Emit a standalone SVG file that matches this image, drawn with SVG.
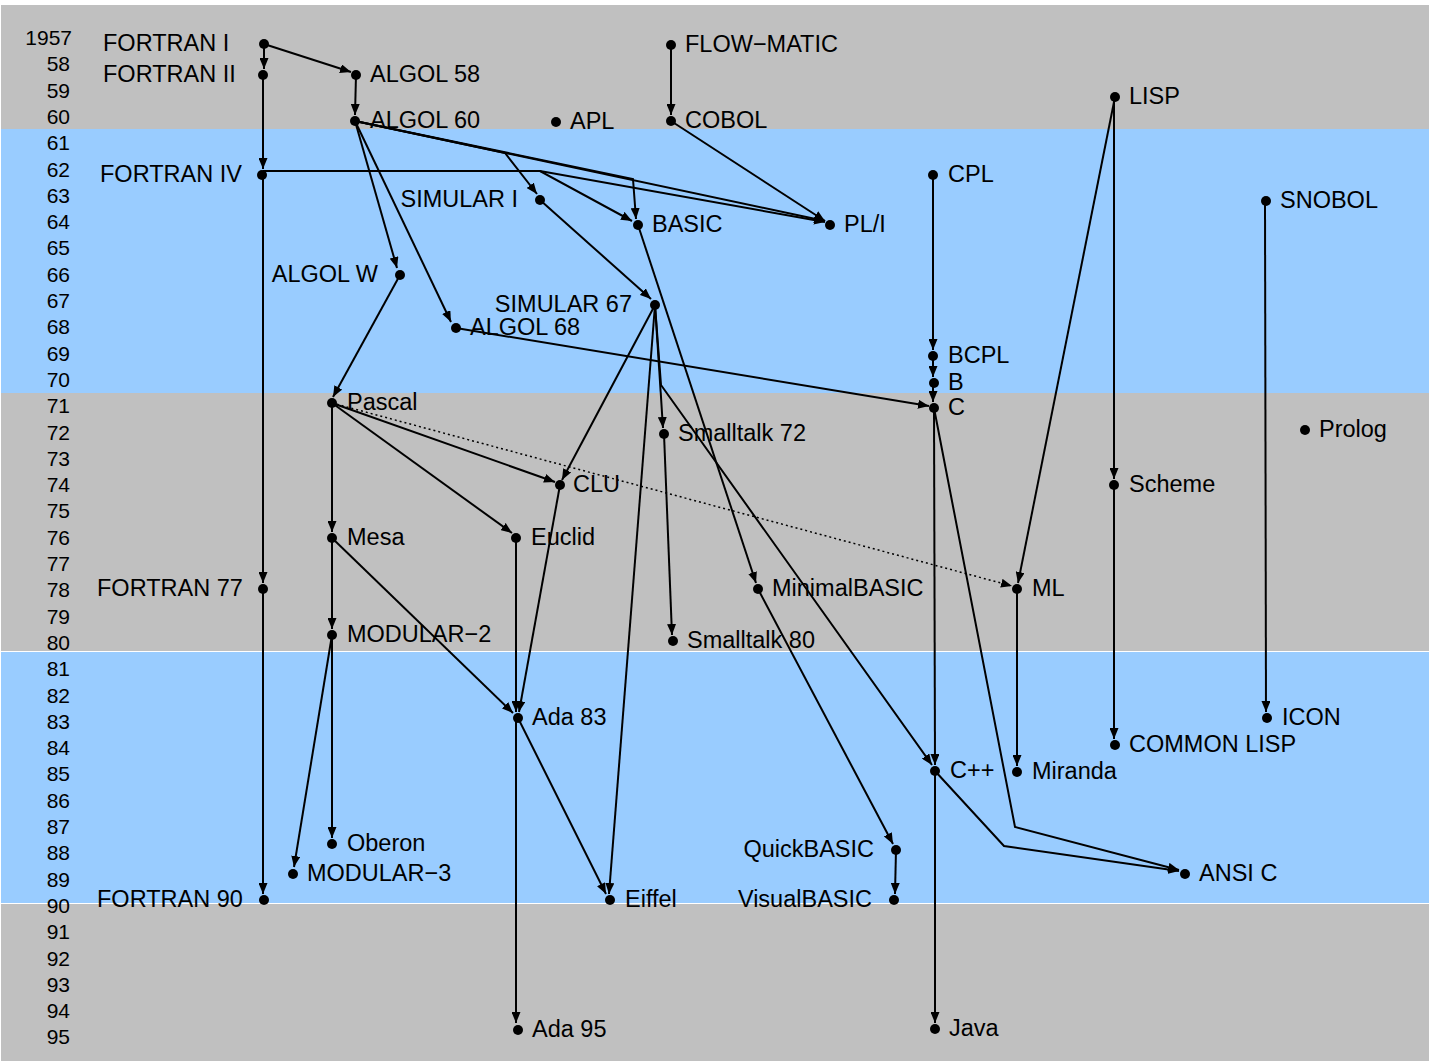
<svg xmlns="http://www.w3.org/2000/svg" width="1429" height="1063" viewBox="0 0 1429 1063">
<style>
.yr{font-family:"Liberation Sans",Arial,sans-serif;font-size:21px;fill:#000;text-anchor:end}
.lb{font-family:"Liberation Sans",Arial,sans-serif;font-size:23.5px;fill:#000}
.r{text-anchor:end}
.e{fill:none;stroke:#000;stroke-width:2;marker-end:url(#ah)}
.d{fill:none;stroke:#000;stroke-width:1.5;stroke-dasharray:2,3;marker-end:url(#ah)}
.dot{fill:#000}
</style>
<defs>
<marker id="ah" viewBox="0 0 11 9" refX="11" refY="4.5" markerWidth="11" markerHeight="9" markerUnits="userSpaceOnUse" orient="auto"><path d="M0,0 L11,4.5 L0,9 z" fill="#000"/></marker>
</defs>
<rect width="1429" height="1063" fill="#fff"/>
<g id="bands">
<rect x="1" y="5" width="1428" height="124" fill="#c0c0c0"/>
<rect x="1" y="129" width="1428" height="264" fill="#99ccff"/>
<rect x="1" y="393" width="1428" height="258" fill="#c0c0c0"/>
<rect x="1" y="652" width="1428" height="251" fill="#99ccff"/>
<rect x="1" y="904" width="1428" height="157" fill="#c0c0c0"/>
</g>
<g id="years">
<text class="yr" x="72" y="45">1957</text>
<text class="yr" x="70" y="71.3">58</text>
<text class="yr" x="70" y="97.6">59</text>
<text class="yr" x="70" y="123.9">60</text>
<text class="yr" x="70" y="150.2">61</text>
<text class="yr" x="70" y="176.5">62</text>
<text class="yr" x="70" y="202.8">63</text>
<text class="yr" x="70" y="229.1">64</text>
<text class="yr" x="70" y="255.4">65</text>
<text class="yr" x="70" y="281.7">66</text>
<text class="yr" x="70" y="308">67</text>
<text class="yr" x="70" y="334.3">68</text>
<text class="yr" x="70" y="360.6">69</text>
<text class="yr" x="70" y="386.9">70</text>
<text class="yr" x="70" y="413.2">71</text>
<text class="yr" x="70" y="439.5">72</text>
<text class="yr" x="70" y="465.8">73</text>
<text class="yr" x="70" y="492.1">74</text>
<text class="yr" x="70" y="518.4">75</text>
<text class="yr" x="70" y="544.7">76</text>
<text class="yr" x="70" y="571">77</text>
<text class="yr" x="70" y="597.3">78</text>
<text class="yr" x="70" y="623.6">79</text>
<text class="yr" x="70" y="649.9">80</text>
<text class="yr" x="70" y="676.2">81</text>
<text class="yr" x="70" y="702.5">82</text>
<text class="yr" x="70" y="728.8">83</text>
<text class="yr" x="70" y="755.1">84</text>
<text class="yr" x="70" y="781.4">85</text>
<text class="yr" x="70" y="807.7">86</text>
<text class="yr" x="70" y="834">87</text>
<text class="yr" x="70" y="860.3">88</text>
<text class="yr" x="70" y="886.6">89</text>
<text class="yr" x="70" y="912.9">90</text>
<text class="yr" x="70" y="939.2">91</text>
<text class="yr" x="70" y="965.5">92</text>
<text class="yr" x="70" y="991.8">93</text>
<text class="yr" x="70" y="1018.1">94</text>
<text class="yr" x="70" y="1044.4">95</text>
</g>
<g id="connectors">
<path class="e" d="M264,44 L264,69"/>
<path class="e" d="M264,44 L351,72"/>
<path class="e" d="M263,75 L263,169"/>
<path class="e" d="M356,75 L355,115"/>
<path class="e" d="M671,45 L671,115"/>
<path class="e" d="M355,121 L825,221"/>
<path class="e" d="M355,121 L505,153 L537,194"/>
<path class="e" d="M355,121 L633,179 L636,219"/>
<path class="e" d="M263,171 L540,171 L632,221"/>
<path class="e" d="M263,171 L540,171 L825,222"/>
<path class="e" d="M671,121 L825,221"/>
<path class="e" d="M355,121 L397,268"/>
<path class="e" d="M355,121 L451,322"/>
<path class="e" d="M540,200 L651,299"/>
<path class="e" d="M638,225 L756,583"/>
<path class="e" d="M933,175 L933,350"/>
<path class="e" d="M933,356 L933,377"/>
<path class="e" d="M933,383 L933,402"/>
<path class="e" d="M456,328 L929,406"/>
<path class="e" d="M400,275 L333,397"/>
<path class="e" d="M655,305 L562,480"/>
<path class="e" d="M655,305 L663,428"/>
<path class="e" d="M655,305 L609,894"/>
<path class="e" d="M655,305 L661,385 L932,765"/>
<path class="e" d="M664,434 L672,635"/>
<path class="e" d="M934,408 L935,765"/>
<path class="e" d="M934,408 L1015,827 L1179,870"/>
<path class="e" d="M935,771 L1004,846 L1179,871"/>
<path class="e" d="M935,771 L935,1023"/>
<path class="e" d="M1115,97 L1018,583"/>
<path class="e" d="M1114,97 L1114,479"/>
<path class="e" d="M1114,485 L1114,739"/>
<path class="e" d="M1265,201 L1266,712"/>
<path class="e" d="M1017,589 L1017,766"/>
<path class="e" d="M332,403 L332,532"/>
<path class="e" d="M332,403 L555,482"/>
<path class="e" d="M332,403 L512,533"/>
<path class="d" d="M332,403 L1012,586"/>
<path class="e" d="M332,538 L332,629"/>
<path class="e" d="M332,538 L513,713"/>
<path class="e" d="M516,538 L516,712"/>
<path class="e" d="M560,485 L519,712"/>
<path class="e" d="M518,718 L606,894"/>
<path class="e" d="M516,718 L516,1023"/>
<path class="e" d="M332,635 L332,838"/>
<path class="e" d="M332,635 L294,867"/>
<path class="e" d="M263,175 L263,583"/>
<path class="e" d="M263,589 L263,894"/>
<path class="e" d="M758,589 L893,844"/>
<path class="e" d="M896,850 L895,894"/>
</g>
<g id="fortran1"><circle class="dot" cx="264" cy="44" r="5"/><text class="lb" x="103" y="51">FORTRAN I</text></g>
<g id="fortran2"><circle class="dot" cx="263" cy="75" r="5"/><text class="lb" x="103" y="82">FORTRAN II</text></g>
<g id="algol58"><circle class="dot" cx="356" cy="75" r="5"/><text class="lb" x="370" y="82">ALGOL 58</text></g>
<g id="algol60"><circle class="dot" cx="355" cy="121" r="5"/><text class="lb" x="370" y="128">ALGOL 60</text></g>
<g id="apl"><circle class="dot" cx="556" cy="122" r="5"/><text class="lb" x="570" y="129">APL</text></g>
<g id="flowmatic"><circle class="dot" cx="671" cy="45" r="5"/><text class="lb" x="685" y="52">FLOW−MATIC</text></g>
<g id="cobol"><circle class="dot" cx="671" cy="121" r="5"/><text class="lb" x="685" y="128">COBOL</text></g>
<g id="lisp"><circle class="dot" cx="1115" cy="97" r="5"/><text class="lb" x="1129" y="104">LISP</text></g>
<g id="fortran4"><circle class="dot" cx="262" cy="175" r="5"/><text class="lb" x="100" y="182">FORTRAN IV</text></g>
<g id="cpl"><circle class="dot" cx="933" cy="175" r="5"/><text class="lb" x="948" y="182">CPL</text></g>
<g id="snobol"><circle class="dot" cx="1266" cy="201" r="5"/><text class="lb" x="1280" y="208">SNOBOL</text></g>
<g id="simular1"><circle class="dot" cx="540" cy="200" r="5"/><text class="lb r" x="518" y="207">SIMULAR I</text></g>
<g id="basic"><circle class="dot" cx="638" cy="225" r="5"/><text class="lb" x="652" y="232">BASIC</text></g>
<g id="pl1"><circle class="dot" cx="830" cy="225" r="5"/><text class="lb" x="844" y="232">PL/I</text></g>
<g id="algolw"><circle class="dot" cx="400" cy="275" r="5"/><text class="lb r" x="378" y="282">ALGOL W</text></g>
<g id="simular67"><circle class="dot" cx="655" cy="305" r="5"/><text class="lb r" x="632" y="312">SIMULAR 67</text></g>
<g id="algol68"><circle class="dot" cx="456" cy="328" r="5"/><text class="lb" x="470" y="335">ALGOL 68</text></g>
<g id="bcpl"><circle class="dot" cx="933" cy="356" r="5"/><text class="lb" x="948" y="363">BCPL</text></g>
<g id="b"><circle class="dot" cx="934" cy="383" r="5"/><text class="lb" x="948" y="390">B</text></g>
<g id="c"><circle class="dot" cx="934" cy="408" r="5"/><text class="lb" x="948" y="415">C</text></g>
<g id="pascal"><circle class="dot" cx="332" cy="403" r="5"/><text class="lb" x="347" y="410">Pascal</text></g>
<g id="smalltalk72"><circle class="dot" cx="664" cy="434" r="5"/><text class="lb" x="678" y="441">Smalltalk 72</text></g>
<g id="prolog"><circle class="dot" cx="1305" cy="430" r="5"/><text class="lb" x="1319" y="437">Prolog</text></g>
<g id="clu"><circle class="dot" cx="560" cy="485" r="5"/><text class="lb" x="573" y="492">CLU</text></g>
<g id="scheme"><circle class="dot" cx="1114" cy="485" r="5"/><text class="lb" x="1129" y="492">Scheme</text></g>
<g id="mesa"><circle class="dot" cx="332" cy="538" r="5"/><text class="lb" x="347" y="545">Mesa</text></g>
<g id="euclid"><circle class="dot" cx="516" cy="538" r="5"/><text class="lb" x="531" y="545">Euclid</text></g>
<g id="fortran77"><circle class="dot" cx="263" cy="589" r="5"/><text class="lb" x="97" y="596">FORTRAN 77</text></g>
<g id="minimalbasic"><circle class="dot" cx="758" cy="589" r="5"/><text class="lb" x="772" y="596">MinimalBASIC</text></g>
<g id="ml"><circle class="dot" cx="1017" cy="589" r="5"/><text class="lb" x="1032" y="596">ML</text></g>
<g id="modular2"><circle class="dot" cx="332" cy="635" r="5"/><text class="lb" x="347" y="642">MODULAR−2</text></g>
<g id="smalltalk80"><circle class="dot" cx="673" cy="641" r="5"/><text class="lb" x="687" y="648">Smalltalk 80</text></g>
<g id="ada83"><circle class="dot" cx="518" cy="718" r="5"/><text class="lb" x="532" y="725">Ada 83</text></g>
<g id="icon"><circle class="dot" cx="1267" cy="718" r="5"/><text class="lb" x="1282" y="725">ICON</text></g>
<g id="commonlisp"><circle class="dot" cx="1115" cy="745" r="5"/><text class="lb" x="1129" y="752">COMMON LISP</text></g>
<g id="cpp"><circle class="dot" cx="935" cy="771" r="5"/><text class="lb" x="950" y="778">C++</text></g>
<g id="miranda"><circle class="dot" cx="1017" cy="772" r="5"/><text class="lb" x="1032" y="779">Miranda</text></g>
<g id="oberon"><circle class="dot" cx="332" cy="844" r="5"/><text class="lb" x="347" y="851">Oberon</text></g>
<g id="quickbasic"><circle class="dot" cx="896" cy="850" r="5"/><text class="lb r" x="874" y="857">QuickBASIC</text></g>
<g id="modular3"><circle class="dot" cx="293" cy="874" r="5"/><text class="lb" x="307" y="881">MODULAR−3</text></g>
<g id="ansic"><circle class="dot" cx="1185" cy="874" r="5"/><text class="lb" x="1199" y="881">ANSI C</text></g>
<g id="fortran90"><circle class="dot" cx="264" cy="900" r="5"/><text class="lb" x="97" y="907">FORTRAN 90</text></g>
<g id="eiffel"><circle class="dot" cx="610" cy="900" r="5"/><text class="lb" x="625" y="907">Eiffel</text></g>
<g id="visualbasic"><circle class="dot" cx="894" cy="900" r="5"/><text class="lb r" x="872" y="907">VisualBASIC</text></g>
<g id="ada95"><circle class="dot" cx="518" cy="1030" r="5"/><text class="lb" x="532" y="1037">Ada 95</text></g>
<g id="java"><circle class="dot" cx="935" cy="1029" r="5"/><text class="lb" x="949" y="1036">Java</text></g>
</svg>
